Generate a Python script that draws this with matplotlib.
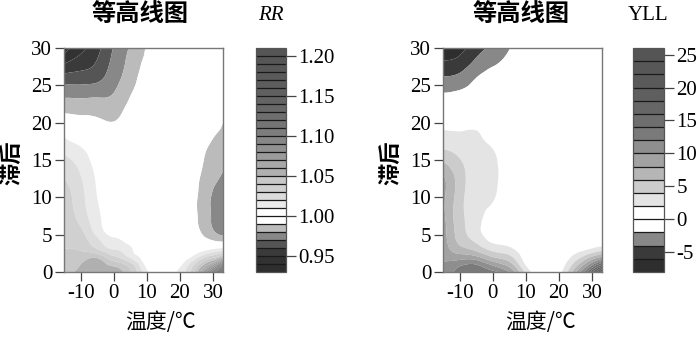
import numpy as np
import matplotlib
matplotlib.use('Agg')
import matplotlib.pyplot as plt
import matplotlib.tri as mtri

plt.rcParams['axes.unicode_minus'] = False

# ---------------- data ----------------
temperature = [-15, -10, -5, 0, 5, 10, 15, 20, 24, 28, 31, 33]
lag = [0, 1, 2, 3, 4, 5, 7, 10, 13, 16, 18, 20, 22, 24, 26, 28, 30]

# RR: one list per temperature column (values along lag)
rr_t_m15 = [1.045, 1.043, 1.041, 1.040, 1.039, 1.039, 1.038, 1.035, 1.029, 1.019, 1.010, 0.996, 0.987, 0.976, 0.964, 0.949, 0.935]
rr_t_m10 = [1.052, 1.050, 1.045, 1.039, 1.036, 1.034, 1.027, 1.0235, 1.020, 1.013, 1.004, 0.994, 0.986, 0.976, 0.965, 0.955, 0.947]
rr_t_m5 = [1.058, 1.055, 1.048, 1.031, 1.024, 1.018, 1.013, 1.010, 1.008, 1.004, 1.000, 0.993, 0.985, 0.977, 0.967, 0.961, 0.957]
rr_t_0 = [1.056, 1.047, 1.032, 1.020, 1.013, 1.008, 1.004, 1.002, 1.001, 1.000, 0.997, 0.9905, 0.985, 0.980, 0.976, 0.973, 0.9705]
rr_t_5 = [1.042, 1.034, 1.018, 1.012, 1.007, 1.004, 1.002, 1.001, 1.000, 1.000, 0.999, 0.997, 0.993, 0.989, 0.985, 0.983, 0.981]
rr_t_10 = [1.013, 1.006, 1.003, 1.001, 1.001, 1.000, 1.000, 1.000, 1.000, 1.000, 1.000, 0.999, 0.998, 0.997, 0.996, 0.993, 0.991]
rr_t_15 = [1.002, 1.001, 1.000, 1.000, 1.000, 1.000, 1.000, 0.999, 0.999, 0.999, 0.999, 0.999, 0.999, 0.999, 0.999, 0.998, 0.998]
rr_t_20 = [1.013, 1.008, 1.003, 1.001, 1.000, 0.998, 0.997, 0.997, 0.997, 0.998, 0.998, 0.999, 0.999, 0.999, 1.000, 1.000, 1.000]
rr_t_24 = [1.036, 1.028, 1.012, 1.003, 0.998, 0.995, 0.993, 0.993, 0.995, 0.997, 0.998, 0.999, 1.000, 1.000, 1.000, 1.000, 1.000]
rr_t_28 = [1.080, 1.055, 1.030, 1.008, 0.995, 0.987, 0.983, 0.983, 0.986, 0.9895, 0.993, 0.996, 0.999, 0.999, 1.000, 1.000, 1.000]
rr_t_31 = [1.130, 1.080, 1.040, 1.013, 0.992, 0.981, 0.977, 0.977, 0.982, 0.986, 0.989, 0.993, 0.996, 0.999, 0.999, 1.000, 1.000]
rr_t_33 = [1.200, 1.120, 1.050, 1.015, 0.991, 0.979, 0.973, 0.973, 0.979, 0.984, 0.987, 0.990, 0.993, 0.996, 0.998, 0.999, 0.999]

# YLL: one list per temperature column (values along lag)
yll_t_m15 = [11.0, 10.3, 9.6, 9.2, 9.0, 8.9, 8.7, 8.5, 8.1, 4.4, 2.8, 1.2, -0.6, -2.0, -3.8, -5.7, -7.5]
yll_t_m10 = [12.8, 11.5, 9.0, 6.8, 5.6, 5.1, 4.8, 4.9, 5.0, 3.6, 2.6, 1.0, -0.4, -1.7, -3.4, -5.2, -6.8]
yll_t_m5 = [13.5, 12.0, 8.5, 5.5, 3.8, 2.8, 2.6, 2.7, 3.0, 2.9, 2.3, 1.4, -0.3, -1.2, -2.0, -3.5, -4.8]
yll_t_0 = [12.5, 9.5, 6.0, 3.5, 1.8, 1.2, 1.2, 2.2, 2.5, 2.2, 1.2, 0.5, 0.0, -0.5, -1.2, -2.3, -3.6]
yll_t_5 = [10.0, 7.0, 4.6, 2.6, 1.3, 0.8, 0.5, 0.5, 0.8, 0.6, 0.3, 0.1, 0.0, -0.3, -0.8, -1.3, -2.1]
yll_t_10 = [3.5, 1.8, 1.0, 0.5, 0.2, 0.2, 0.1, 0.1, 0.1, 0.1, 0.1, 0.0, 0.0, 0.0, -0.1, -0.2, -0.4]
yll_t_15 = [0.3, 0.2, 0.1, 0.0, 0.0, 0.0, 0.0, 0.0, 0.0, 0.0, 0.0, 0.0, 0.0, 0.0, 0.0, 0.0, 0.0]
yll_t_20 = [1.2, 0.6, 0.3, 0.1, 0.0, 0.0, 0.0, 0.0, 0.0, 0.0, 0.0, 0.0, 0.0, 0.0, 0.0, 0.0, 0.0]
yll_t_24 = [6.0, 4.0, 2.2, 1.0, 0.4, 0.2, 0.0, 0.0, 0.0, 0.0, 0.0, 0.0, 0.0, 0.0, 0.0, 0.0, 0.0]
yll_t_28 = [13.0, 8.5, 4.8, 1.8, 0.5, 0.2, 0.0, 0.0, 0.0, 0.0, 0.0, 0.0, 0.0, 0.0, 0.0, 0.0, 0.0]
yll_t_31 = [20.0, 13.0, 7.0, 2.8, 0.8, 0.3, 0.0, 0.0, 0.0, 0.0, 0.0, 0.0, 0.0, 0.0, 0.0, 0.0, 0.0]
yll_t_33 = [25.5, 16.0, 8.5, 3.3, 1.0, 0.4, 0.0, 0.0, 0.0, 0.0, 0.0, 0.0, 0.0, 0.0, 0.0, 0.0, 0.0]

rr_levels = [0.93, 0.94, 0.95, 0.96, 0.97, 0.98, 0.99, 1.00, 1.01, 1.02, 1.03, 1.04, 1.05, 1.06,
             1.07, 1.08, 1.09, 1.10, 1.11, 1.12, 1.13, 1.14, 1.15, 1.16, 1.17, 1.18, 1.19, 1.20, 1.21]
rr_ticks = [0.95, 1.00, 1.05, 1.10, 1.15, 1.20]
yll_levels = [-8, -6, -4, -2, 0, 2, 4, 6, 8, 10, 12, 14, 16, 18, 20, 22, 24, 26]
yll_ticks = [-5, 0, 5, 10, 15, 20, 25]
x_ticks = [-10, 0, 10, 20, 30]
y_ticks = [0, 5, 10, 15, 20, 25, 30]

title_text = '等高线图'
xlabel_text = '温度/℃'
ylabel_text = '滞后'

# ---------------- styles ----------------
rr_grays = [46, 50, 58, 85, 136, 187, 255, 255, 234, 220, 208, 200, 176, 168,
            155, 145, 135, 125, 117, 110, 104, 100, 96, 93, 90, 88, 86, 85]
yll_grays = [46, 58, 136, 255, 255, 228, 204, 182, 162, 142, 122, 110, 102, 95, 90, 87, 85]
rr_colors = ['#%02x%02x%02x' % (g, g, g) for g in rr_grays]
yll_colors = ['#%02x%02x%02x' % (g, g, g) for g in yll_grays]

W, H = 700, 338
fig = plt.figure(figsize=(W / 100, H / 100), dpi=100)

serif = 'Liberation Serif'
cjk = 'Noto Sans CJK SC'
tick_fs = 15


def fx(px):
    return px / W


def fy(py):
    return 1 - py / H


def panel(ax_px, cb_px, Z, levels, colors, ticks, ticklabels, cb_title, cb_title_style, title_x, xlabel_x):
    x0, x1 = ax_px
    ax = fig.add_axes([fx(x0), fy(272), fx(x1 - x0), (272 - 48) / H])
    X, Y = np.meshgrid(temperature, lag)
    # normalised coordinates for a well-shaped triangulation
    tri = mtri.Triangulation((X.ravel() + 15) / 48.0, Y.ravel() / 30.0)
    refiner = mtri.UniformTriRefiner(tri)
    tri_f, z_f = refiner.refine_field(Z.ravel(), subdiv=3)
    tri_plot = mtri.Triangulation(tri_f.x * 48.0 - 15, tri_f.y * 30.0, tri_f.triangles)
    cf = ax.tricontourf(tri_plot, z_f, levels=levels, colors=colors, antialiased=True)
    ax.set_xlim(-15, 33)
    ax.set_ylim(0, 30)
    ax.set_xticks(x_ticks)
    ax.set_yticks(y_ticks)
    ax.tick_params(direction='out', length=6.5, width=0.9, color='#444', pad=2,
                   labelsize=tick_fs)
    for lab in ax.get_xticklabels() + ax.get_yticklabels():
        lab.set_fontfamily(serif)
    for s in ax.spines.values():
        s.set_color('#777')
        s.set_linewidth(1.0)
    # colorbar
    c0, c1 = cb_px
    cax = fig.add_axes([fx(c0), fy(272), fx(c1 - c0), (272 - 48) / H])
    cb = fig.colorbar(cf, cax=cax, drawedges=True, ticks=ticks)
    cb.ax.set_yticklabels(ticklabels)
    cb.dividers.set_color('#1a1a1a')
    cb.dividers.set_linewidth(0.9)
    cb.outline.set_edgecolor('#555')
    cb.outline.set_linewidth(0.9)
    cb.ax.tick_params(direction='out', length=7, width=0.9, color='#444', pad=2,
                      labelsize=tick_fs)
    for lab in cb.ax.get_yticklabels():
        lab.set_fontfamily(serif)
    # texts
    fig.text(fx(title_x), fy(15), title_text, family=[cjk], fontweight='bold',
             fontsize=17.5, ha='center', va='center')
    fig.text(fx((c0 + c1) / 2), fy(15), cb_title, family=[serif], style=cb_title_style,
             fontsize=15, ha='center', va='center')
    fig.text(fx(xlabel_x), fy(322), xlabel_text, family=[cjk, 'DejaVu Sans'],
             fontsize=15, ha='center', va='center')
    fig.text(fx(x0 - 52), fy(163), ylabel_text, family=[cjk], fontweight='bold',
             fontsize=16, ha='center', va='center', rotation=90)
    return ax


rr_Z = np.array([rr_t_m15, rr_t_m10, rr_t_m5, rr_t_0, rr_t_5, rr_t_10, rr_t_15,
                 rr_t_20, rr_t_24, rr_t_28, rr_t_31, rr_t_33]).T
yll_Z = np.array([yll_t_m15, yll_t_m10, yll_t_m5, yll_t_0, yll_t_5, yll_t_10, yll_t_15,
                  yll_t_20, yll_t_24, yll_t_28, yll_t_31, yll_t_33]).T

panel((64, 223), (256, 286), rr_Z, rr_levels, rr_colors, rr_ticks,
      ['%.2f' % t for t in rr_ticks], 'RR', 'italic', 140, 161)
panel((443, 602), (633, 664), yll_Z, yll_levels, yll_colors, yll_ticks,
      ['%d' % t for t in yll_ticks], 'YLL', 'normal', 521, 541)

fig.savefig('out.png', dpi=100)
